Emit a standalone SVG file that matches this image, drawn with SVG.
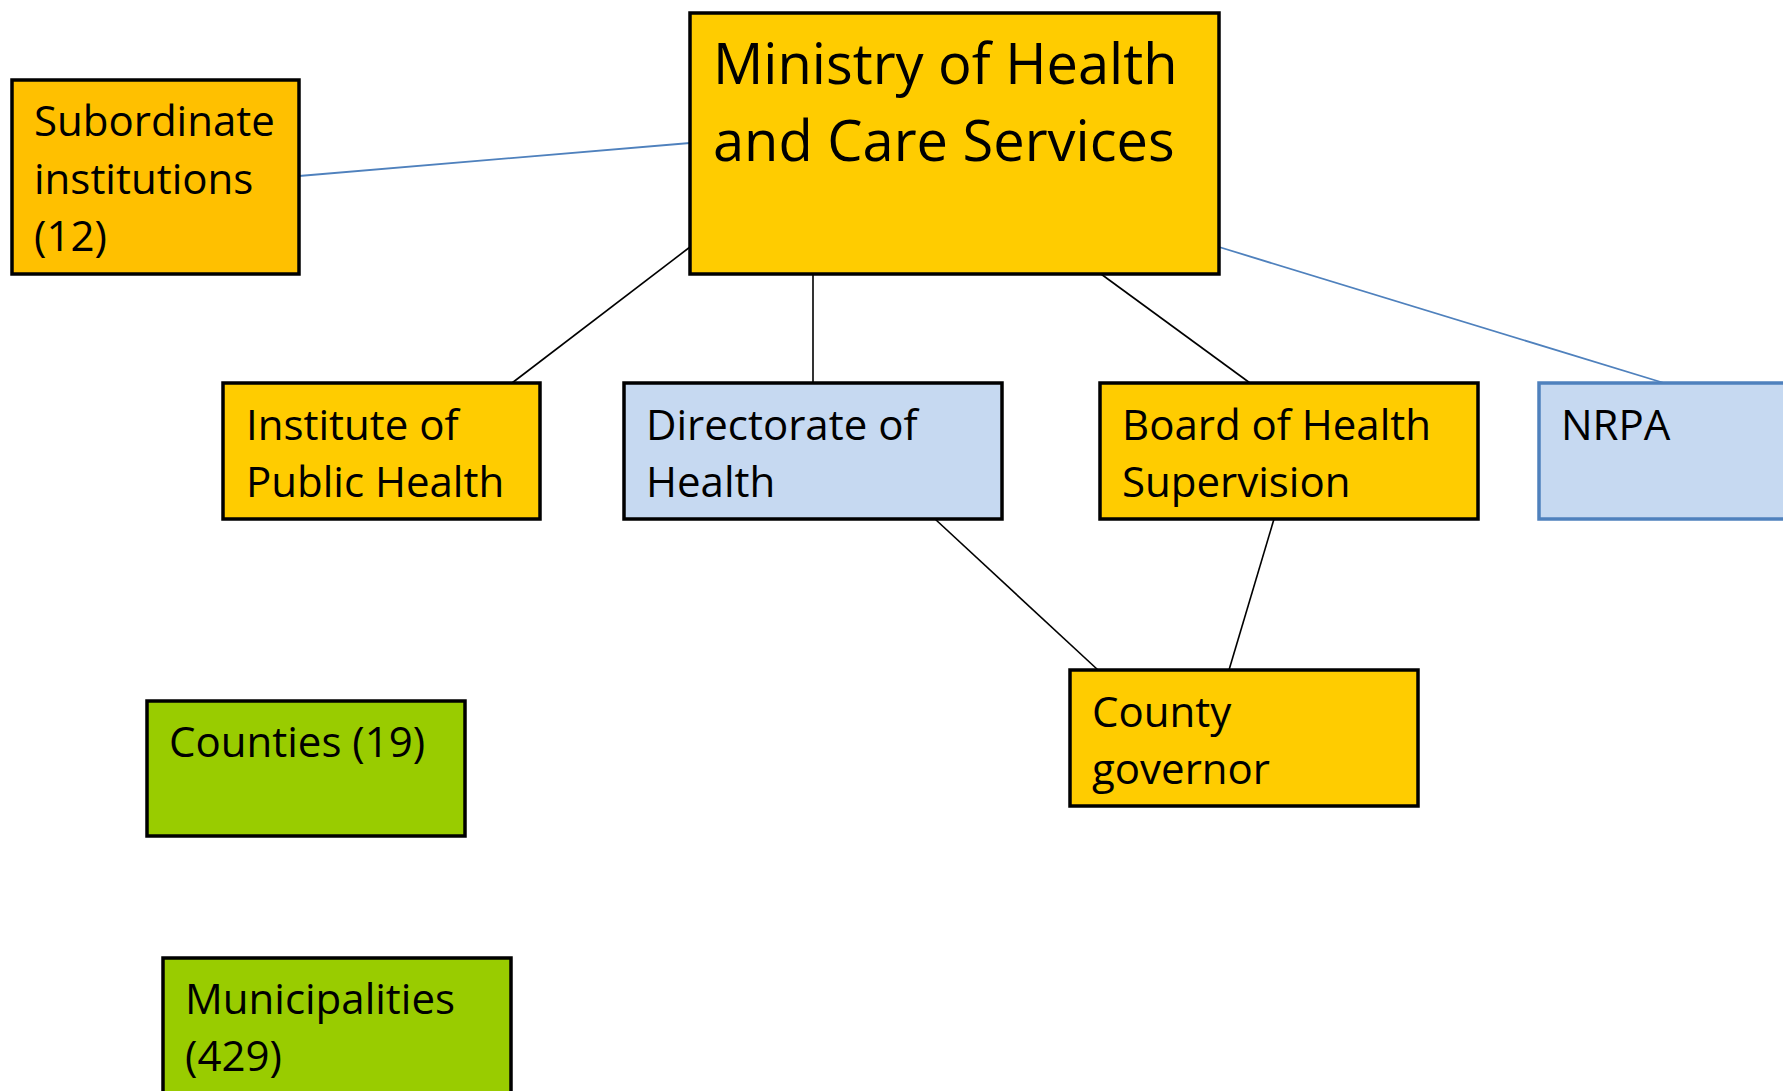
<svg xmlns="http://www.w3.org/2000/svg" width="1783" height="1091" viewBox="0 0 1783 1091">
<style>
  .box { stroke: #000; stroke-width: 3.5; }
  .orange { fill: #FFC000; }
  .yellow { fill: #FFCC00; }
  .blue { fill: #C6D9F1; }
  .green { fill: #99CC00; }
  .nrpa { fill: #C6D9F1; stroke: #4F81BD; stroke-width: 3.5; }
  .lbl { font-family: "Open Sans", "Noto Sans", sans-serif; font-size: 42px; fill: #000; }
  .big { font-size: 56px; }
  .blk { stroke: #000; stroke-width: 1.6; fill: none; }
  .bl { stroke: #4F81BD; stroke-width: 1.8; fill: none; }
</style>
<rect width="1783" height="1091" fill="#fff"/>
<g id="connectors">
  <line class="bl" x1="299" y1="176" x2="690" y2="143"/>
  <line class="blk" x1="690" y1="247" x2="512" y2="383"/>
  <line class="blk" x1="813" y1="274" x2="813" y2="383"/>
  <line class="blk" x1="1101" y1="274" x2="1250" y2="383"/>
  <line class="bl" x1="1219" y1="247" x2="1664" y2="383"/>
  <line class="blk" x1="935" y1="519" x2="1098" y2="670"/>
  <line class="blk" x1="1274" y1="519" x2="1229" y2="670"/>
</g>
<g id="subordinate">
  <rect class="box orange" x="12" y="80" width="287" height="194"/>
  <text class="lbl"><tspan x="34" y="136">Subordinate</tspan><tspan x="34" y="194">institutions</tspan><tspan x="34" y="251">(12)</tspan></text>
</g>
<g id="ministry">
  <rect class="box yellow" x="690" y="13" width="529" height="261"/>
  <text class="lbl big"><tspan x="713" y="84">Ministry of Health</tspan><tspan x="713" y="161">and Care Services</tspan></text>
</g>
<g id="institute">
  <rect class="box yellow" x="223" y="383" width="317" height="136"/>
  <text class="lbl"><tspan x="246" y="440">Institute of</tspan><tspan x="246" y="497">Public Health</tspan></text>
</g>
<g id="directorate">
  <rect class="box blue" x="624" y="383" width="378" height="136"/>
  <text class="lbl"><tspan x="646" y="440">Directorate of</tspan><tspan x="646" y="497">Health</tspan></text>
</g>
<g id="board">
  <rect class="box yellow" x="1100" y="383" width="378" height="136"/>
  <text class="lbl"><tspan x="1122" y="440">Board of Health</tspan><tspan x="1122" y="497">Supervision</tspan></text>
</g>
<g id="nrpa">
  <rect class="nrpa" x="1539" y="383" width="260" height="136"/>
  <text class="lbl"><tspan x="1561" y="440">NRPA</tspan></text>
</g>
<g id="county-governor">
  <rect class="box yellow" x="1070" y="670" width="348" height="136"/>
  <text class="lbl"><tspan x="1092" y="727">County</tspan><tspan x="1092" y="784">governor</tspan></text>
</g>
<g id="counties">
  <rect class="box green" x="147" y="701" width="318" height="135"/>
  <text class="lbl"><tspan x="169" y="757">Counties (19)</tspan></text>
</g>
<g id="municipalities">
  <rect class="box green" x="163" y="958" width="348" height="150"/>
  <text class="lbl"><tspan x="185" y="1014">Municipalities</tspan><tspan x="185" y="1071">(429)</tspan></text>
</g>
</svg>
